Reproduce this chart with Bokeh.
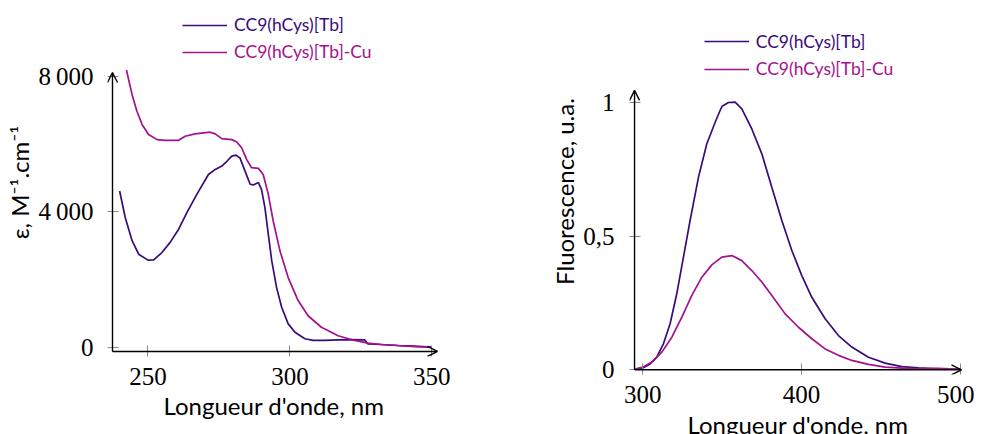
from bokeh.plotting import figure
from bokeh.layouts import row
from bokeh.models import Range1d, FixedTicker, Legend, LegendItem, Arrow, OpenHead
from bokeh.embed import file_html
from bokeh.resources import INLINE

# ---------------- data ----------------
uv_wl_tb = [240, 242, 244.4, 246.7, 250, 252, 254.9, 257.8, 260.8, 263.7, 267.2, 271.3,
            273.7, 276, 277.8, 279.5, 281, 282.4, 284.2, 286, 287.1, 288.9, 290, 291.2,
            292.4, 293.6, 295.3, 297.1, 299.4, 301.8, 305.3, 308.2, 312.3, 317, 321.7,
            326.3, 327.5, 332.2, 338, 343.9, 349.8]
uv_eps_tb = [4620, 3830, 3150, 2750, 2575, 2585, 2800, 3100, 3490, 3980, 4520, 5110,
             5260, 5360, 5500, 5650, 5680, 5600, 5210, 4820, 4800, 4870, 4670, 4130,
             3340, 2560, 1770, 1180, 690, 440, 250, 200, 200, 215, 225,
             215, 100, 80, 50, 30, 0]

uv_wl_cu = [242.4, 244.4, 246.1, 247.9, 250.2, 253.2, 256.1, 260.8, 263.1, 266.6, 271.9,
            273.7, 276, 279.5, 281.3, 283, 284.8, 286.5, 288.9, 290.6, 292.4, 294.1,
            296.5, 299.4, 302.9, 306.4, 311.1, 317, 322.8, 327.5, 332.2, 338, 343.9, 349.8]
uv_eps_cu = [8200, 7470, 6980, 6590, 6290, 6140, 6120, 6120, 6240, 6310, 6360,
             6310, 6170, 6140, 6070, 5900, 5550, 5310, 5290, 5110, 4520, 3740,
             2850, 2060, 1380, 930, 590, 340, 200, 120, 80, 50, 20, 0]

fl_wl_tb = [294.7, 300, 304.6, 308.8, 313, 317.2, 321.4, 325.6, 329.8, 335.1, 340.3, 345.6,
            348.7, 350, 354, 358.2, 362.4, 368.7, 375, 381.3, 387.6, 393.9, 400.2, 406.5,
            414.9, 423.3, 431.7, 442.2, 452.7, 463.2, 473.7, 486.3, 500]
fl_tb = [0.002, 0.007, 0.022, 0.047, 0.097, 0.172, 0.284, 0.421, 0.558, 0.720, 0.844, 0.925,
         0.969, 0.985, 0.999, 1.0, 0.975, 0.900, 0.807, 0.682, 0.558, 0.446, 0.352, 0.271,
         0.191, 0.128, 0.085, 0.047, 0.025, 0.012, 0.007, 0.004, 0.002]

fl_wl_cu = [294.7, 300, 305.7, 312, 318.3, 324.6, 330.9, 337.2, 343.5, 349.8, 356.1, 362.4,
            368.7, 375, 381.3, 389.7, 398.1, 406.5, 414.9, 423.3, 431.7, 442.2, 452.7,
            463.2, 473.7, 486.3, 500]
fl_cu = [0.002, 0.010, 0.029, 0.066, 0.122, 0.197, 0.278, 0.346, 0.392, 0.421, 0.427, 0.408,
         0.371, 0.328, 0.278, 0.209, 0.159, 0.116, 0.078, 0.054, 0.035, 0.020, 0.010,
         0.006, 0.004, 0.005, 0.002]

label_tb = "CC9(hCys)[Tb]"
label_cu = "CC9(hCys)[Tb]-Cu"

uv_xticks = [250, 300, 350]
uv_yticks = [0, 4000, 8000]
uv_ylabels = {0: "0", 4000: "4\u2009000", 8000: "8\u2009000"}
fl_xticks = [300, 400, 500]
fl_yticks = [0, 0.5, 1]
fl_ylabels = {0: "0", 0.5: "0,5", 1: "1"}

xlabel = "Longueur d'onde, nm"
uv_ylabel = "\u03b5, M\u207b\u00b9.cm\u207b\u00b9"
fl_ylabel = "Fluorescence, u.a."

# ---------------- style ----------------
TB_COLOR = "#3a0c78"
CU_COLOR = "#a3118e"
SERIF = "Liberation Serif"
SANS = "Lato"


def make(xr, yr, fw, fh, mbl, mbr):
    p = figure(x_range=Range1d(*xr), y_range=Range1d(*yr), frame_width=fw, frame_height=fh,
               min_border_left=mbl, min_border_right=mbr, min_border_top=8,
               min_border_bottom=80, output_backend="svg", toolbar_location=None,
               background_fill_color="white", border_fill_color="white")
    p.outline_line_color = None
    p.grid.grid_line_color = None
    for ax in (p.xaxis, p.yaxis):
        ax.axis_line_color = None
        ax.major_tick_in = 11
        ax.major_tick_out = 0
        ax.major_tick_line_color = "#8a8a8a"
        ax.major_tick_line_width = 1
        ax.minor_tick_line_color = None
        ax.major_label_text_font = SERIF
        ax.major_label_text_font_size = "25px"
        ax.major_label_text_color = "black"
        ax.axis_label_text_font = SANS
        ax.axis_label_text_font_size = "24px"
        ax.axis_label_text_font_style = "normal"
        ax.axis_label_text_color = "black"
    p.yaxis.axis_label_standoff = 1
    return p


def add_axes(p, x0, y0, x1, y1):
    p.add_layout(Arrow(end=OpenHead(size=10, line_width=1.4, line_color="black"),
                       line_width=1.4, line_color="black",
                       x_start=x0, y_start=y0, x_end=x1, y_end=y0))
    p.add_layout(Arrow(end=OpenHead(size=10, line_width=1.4, line_color="black"),
                       line_width=1.4, line_color="black",
                       x_start=x0, y_start=y0, x_end=x0, y_end=y1))


def add_legends(p, r1, r2, x, y_tb, y_cu):
    for lab, r, col, y in ((label_tb, r1, TB_COLOR, y_tb), (label_cu, r2, CU_COLOR, y_cu)):
        lg = Legend(items=[LegendItem(label=lab, renderers=[r])], location=(x, y),
                    glyph_width=45, glyph_height=20, label_height=20, label_standoff=7,
                    padding=0, margin=0, spacing=0, border_line_color=None,
                    background_fill_alpha=0, label_text_font=SANS,
                    label_text_font_size="17.5px", label_text_color=col)
        p.add_layout(lg)


# Left: absorbance
p1 = make((235.73, 353.07), (-275, 10019), 333, 348, 107, 14)
p1.xaxis.ticker = FixedTicker(ticks=uv_xticks)
p1.yaxis.ticker = FixedTicker(ticks=uv_yticks)
p1.yaxis.major_label_overrides = uv_ylabels
p1.xaxis.major_label_standoff = 11
p1.yaxis.major_label_standoff = 14
p1.xaxis.axis_label_standoff = 3
p1.xaxis.axis_label = xlabel
p1.yaxis.axis_label = uv_ylabel
a1 = p1.line(uv_wl_tb, uv_eps_tb, line_color=TB_COLOR, line_width=1.7)
a2 = p1.line(uv_wl_cu, uv_eps_cu, line_color=CU_COLOR, line_width=1.7)
add_legends(p1, a1, a2, 75, 320.7, 294)
add_axes(p1, 237.49, -127, 352.0, 8126)

# Right: fluorescence
p2 = make((291.62, 503.97), (-0.01756, 1.3502), 337, 366, 175, 8)
p2.xaxis.ticker = FixedTicker(ticks=fl_xticks)
p2.yaxis.ticker = FixedTicker(ticks=fl_yticks)
p2.yaxis.major_label_overrides = fl_ylabels
p2.xaxis.major_label_standoff = 11
p2.yaxis.major_label_standoff = 15
p2.xaxis.axis_label_standoff = 4
p2.xaxis.axis_label = xlabel
p2.yaxis.axis_label = fl_ylabel
f1 = p2.line(fl_wl_tb, fl_tb, line_color=TB_COLOR, line_width=1.7)
f2 = p2.line(fl_wl_cu, fl_cu, line_color=CU_COLOR, line_width=1.7)
add_legends(p2, f1, f2, 74.7, 322.3, 295)
add_axes(p2, 294.8, 0.0, 500.8, 1.044)

layout = row(p1, p2, spacing=0)
open("out.html", "w").write(file_html(layout, INLINE))
